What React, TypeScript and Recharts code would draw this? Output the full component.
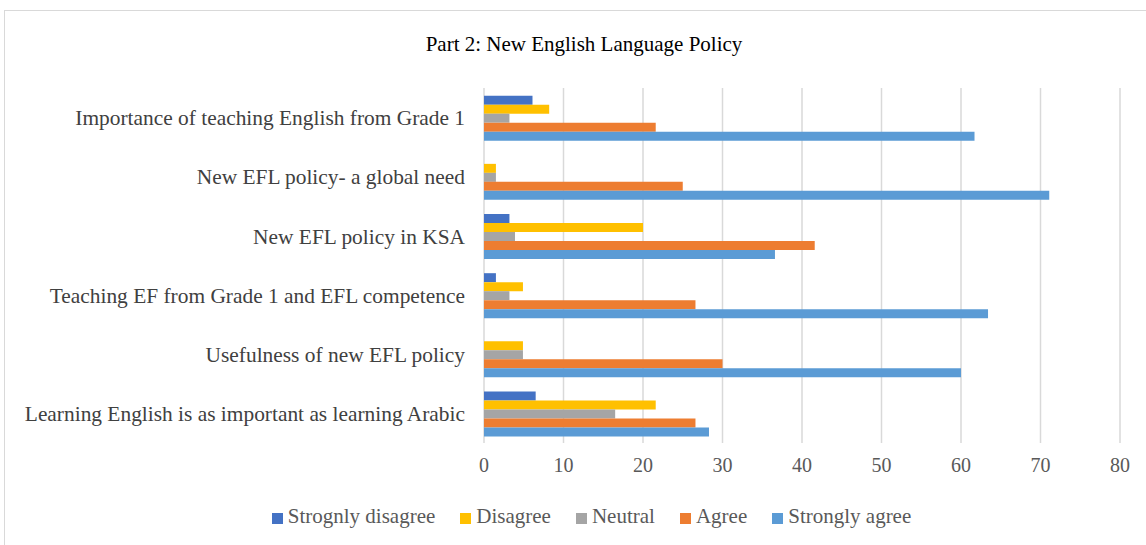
import { BarChart, Bar, XAxis, YAxis, CartesianGrid, Legend } from "recharts";

const categories = [
  "Importance of teaching English from Grade 1",
  "New EFL policy- a global need",
  "New EFL policy in KSA",
  "Teaching EF from Grade 1 and EFL competence",
  "Usefulness of new EFL policy",
  "Learning English is as important as learning Arabic",
];

const stronglyDisagree = [6.1, 0, 3.2, 1.5, 0, 6.5];
const disagree = [8.2, 1.5, 20, 4.9, 4.9, 21.6];
const neutral = [3.2, 1.5, 3.9, 3.2, 4.9, 16.5];
const agree = [21.6, 25, 41.6, 26.6, 30, 26.6];
const stronglyAgree = [61.7, 71.1, 36.6, 63.4, 60, 28.3];

const xTicks = [0, 10, 20, 30, 40, 50, 60, 70, 80];

const legendOrder = ["Strognly disagree", "Disagree", "Neutral", "Agree", "Strongly agree"];

const data = categories.map((name, i) => ({
  name,
  sd: stronglyDisagree[i],
  d: disagree[i],
  n: neutral[i],
  a: agree[i],
  sa: stronglyAgree[i],
}));

const FONT = "'Liberation Serif', serif";

export default function App() {
  return (
    <div
      style={{
        position: "absolute",
        left: 0,
        top: 0,
        width: 1146,
        height: 545,
        background: "#fff",
        fontFamily: FONT,
        overflow: "hidden",
      }}
    >
      <div
        style={{
          position: "absolute",
          left: 4,
          top: 10,
          width: 1160,
          height: 560,
          border: "1px solid #d9d9d9",
          boxSizing: "border-box",
        }}
      />
      <div
        style={{
          position: "absolute",
          top: 32,
          left: 0,
          width: 1168,
          textAlign: "center",
          fontSize: 21,
          fontFamily: FONT,
          color: "#000",
        }}
      >
        Part 2: New English Language Policy
      </div>
      <div style={{ position: "absolute", left: 0, top: 0 }}>
        <BarChart
          width={1146}
          height={545}
          data={data}
          layout="vertical"
          margin={{ top: 88, right: 26, left: 0, bottom: 13 }}
          barGap={0}
          barCategoryGap="13%"
          style={{ fontFamily: FONT }}
        >
          <CartesianGrid horizontal={false} stroke="#d9d9d9" strokeWidth={1.5} />
          <XAxis
            type="number"
            domain={[0, 80]}
            ticks={xTicks}
            axisLine={false}
            tickLine={false}
            tickSize={0}
            tickMargin={15}
            height={61}
            tick={{ fill: "#595959", fontSize: 20, fontFamily: FONT }}
          />
          <YAxis
            type="category"
            dataKey="name"
            width={484}
            axisLine={false}
            tickLine={false}
            tickSize={0}
            tickMargin={19}
            interval={0}
            tick={{ fill: "#404040", fontSize: 21.4, fontFamily: FONT }}
          />
          <Legend
            verticalAlign="bottom"
            height={28}
            iconType="square"
            iconSize={11}
            itemSorter={(item: any) => legendOrder.indexOf(item.value)}
            wrapperStyle={{ color: "#595959", fontSize: 21, fontFamily: FONT, paddingLeft: 44 }}
            formatter={(value: any) => (
              <span style={{ color: "#595959", marginLeft: 1, marginRight: 15 }}>{value}</span>
            )}
          />
          <Bar dataKey="sd" name="Strognly disagree" fill="#4472C4" isAnimationActive={false} />
          <Bar dataKey="d" name="Disagree" fill="#FFC000" isAnimationActive={false} />
          <Bar dataKey="n" name="Neutral" fill="#A5A5A5" isAnimationActive={false} />
          <Bar dataKey="a" name="Agree" fill="#ED7D31" isAnimationActive={false} />
          <Bar dataKey="sa" name="Strongly agree" fill="#5B9BD5" isAnimationActive={false} />
        </BarChart>
      </div>
    </div>
  );
}
